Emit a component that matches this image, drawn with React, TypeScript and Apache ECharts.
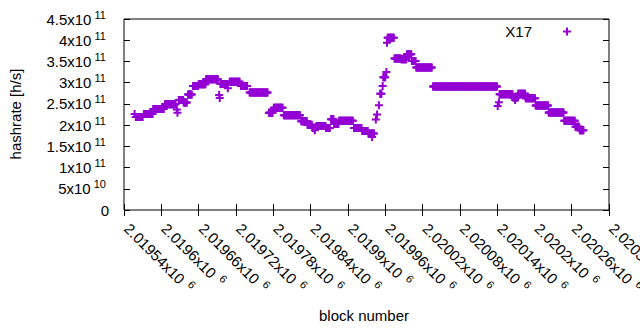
import React, { useEffect, useRef } from 'react';
import * as echarts from 'echarts';

// Runs of blocks sharing the same hashrate estimate (start block, end block, value in 1e11 h/s)
const runStart = [
  2019557, 2019559, 2019572, 2019587, 2019606, 2019625, 2019626, 2019628, 2019636, 2019643,
  2019651, 2019660, 2019672, 2019693, 2019694, 2019695, 2019707, 2019710, 2019728, 2019742,
  2019773, 2019781, 2019797, 2019825, 2019835, 2019844, 2019847, 2019849, 2019850, 2019865,
  2019873, 2019878, 2019886, 2019910, 2019923, 2019933, 2019939, 2019945, 2019947, 2019950,
  2019952, 2019956, 2019957, 2019962, 2019963, 2019964, 2019975, 2019986, 2019995, 2020003,
  2020010, 2020037, 2020141, 2020143, 2020144, 2020166, 2020169, 2020174, 2020186, 2020202,
  2020223, 2020248, 2020266, 2020273,
];
const runEnd = [
  2019557, 2019570, 2019586, 2019604, 2019623, 2019625, 2019626, 2019635, 2019641, 2019649,
  2019659, 2019671, 2019691, 2019693, 2019694, 2019706, 2019707, 2019726, 2019738, 2019771,
  2019779, 2019795, 2019823, 2019834, 2019842, 2019844, 2019847, 2019849, 2019864, 2019871,
  2019877, 2019885, 2019908, 2019922, 2019932, 2019942, 2019939, 2019945, 2019947, 2019950,
  2019954, 2019956, 2019960, 2019962, 2019963, 2019974, 2019985, 2019994, 2020002, 2020009,
  2020035, 2020140, 2020141, 2020143, 2020165, 2020173, 2020169, 2020185, 2020201, 2020222,
  2020247, 2020265, 2020272, 2020279,
];
const runValue = [
  2.26, 2.19, 2.26, 2.38, 2.49, 2.37, 2.29, 2.59, 2.53, 2.72,
  2.92, 2.96, 3.08, 2.71, 2.64, 2.97, 2.87, 3.02, 2.92, 2.77,
  2.29, 2.41, 2.23, 2.09, 2.01, 1.93, 1.88, 1.96, 1.98, 1.93,
  2.14, 2.03, 2.10, 1.93, 1.86, 1.80, 1.72, 2.13, 2.25, 2.47,
  2.74, 2.92, 3.13, 3.25, 3.94, 4.06, 3.57, 3.55, 3.67, 3.51,
  3.36, 2.91, 2.45, 2.54, 2.73, 2.65, 2.59, 2.74, 2.63, 2.46,
  2.30, 2.10, 1.96, 1.88,
];
const seriesName = 'X17';
const xTitle = 'block number';
const yTitle = 'hashrate [h/s]';
const xMin = 2019540;
const xMax = 2020320;
const xStep = 60;
const yMin = 0;
const yMax = 4.5e11;
const yStep = 5e10;

const FONT = '"Liberation Sans", Arial, sans-serif';
const COLOR = '#9400d3';
const PLUS = 'path://M3,0H5V3H8V5H5V8H3V5H0V3H3Z';

function sciParts(v: number): [string, string] | null {
  if (v === 0) return null;
  const e = Math.floor(Math.log10(v) + 1e-9);
  const m = Math.round((v / Math.pow(10, e)) * 100000) / 100000;
  return [String(m), String(e)];
}

export default function App() {
  const ref = useRef<HTMLDivElement>(null);
  useEffect(() => {
    document.body.style.margin = '0';
    if (!ref.current) return;
    const chart = echarts.init(ref.current, undefined, { renderer: 'svg' });
    const data: number[][] = [];
    for (let i = 0; i < runStart.length; i++) {
      for (let b = runStart[i]; b <= runEnd[i]; b++) data.push([b, runValue[i] * 1e11]);
    }
    const base = { fontSize: 15, lineHeight: 20, fontFamily: FONT, color: '#000' };
    const sup = { fontSize: 11, lineHeight: 11, verticalAlign: 'top', fontFamily: FONT, color: '#000' };
    const rich = { a: base, s: sup };
    const labelBase = { fontSize: 15, lineHeight: 20, fontFamily: FONT, color: '#000' };
    const tick = { inside: true, length: 6, lineStyle: { color: '#000', width: 1 } };
    const xCommon = { type: 'value', min: xMin, max: xMax, interval: xStep, splitLine: { show: false }, axisLine: { show: false }, axisTick: tick };
    const yCommon = { type: 'value', min: yMin, max: yMax, interval: yStep, splitLine: { show: false }, axisLine: { show: false }, axisTick: tick };
    chart.setOption({
      animation: false,
      textStyle: { fontFamily: FONT },
      grid: {
        left: 124, right: 31, top: 19, bottom: 120,
        show: true, borderColor: '#000', borderWidth: 1,
        containLabel: false, outerBoundsMode: 'none',
      },
      legend: {
        data: [{ name: seriesName, icon: PLUS }],
        right: 69, top: 24, align: 'right', padding: 0,
        itemWidth: 60, itemHeight: 8,
        textStyle: { fontSize: 15, color: '#000', fontFamily: FONT },
      },
      xAxis: [
        {
          ...xCommon, position: 'bottom',
          axisLabel: {
            ...labelBase,
            rotate: -45, margin: 13, showMinLabel: true, showMaxLabel: true, hideOverlap: false,
            formatter: (v: number) => `{a| ${parseFloat((v / 1e6).toPrecision(6))}x10}{s|  6}`,
            rich,
          },
        },
        { ...xCommon, position: 'top', axisLabel: { show: false } },
      ],
      yAxis: [
        {
          ...yCommon, position: 'left',
          axisLabel: {
            ...labelBase,
            margin: 15, showMinLabel: true, showMaxLabel: true,
            formatter: (v: number) => {
              const p = sciParts(v);
              return p ? `{a|${p[0]}x10}{s| ${p[1]} }` : '{a|0}';
            },
            rich,
          },
        },
        { ...yCommon, position: 'right', axisLabel: { show: false } },
      ],
      graphic: [
        {
          type: 'text', x: 15.5, y: 114, rotation: Math.PI / 2,
          style: { text: yTitle, fontSize: 15, fontFamily: FONT, fill: '#000', textAlign: 'center', textVerticalAlign: 'middle' },
        },
        {
          type: 'text', x: 364, y: 315,
          style: { text: xTitle, fontSize: 15, fontFamily: FONT, fill: '#000', textAlign: 'center', textVerticalAlign: 'middle' },
        },
      ],
      series: [
        {
          name: seriesName, type: 'scatter', data,
          symbol: PLUS, symbolSize: 8,
          itemStyle: { color: COLOR, opacity: 1 },
          silent: true,
        },
      ],
    });
    return () => chart.dispose();
  }, []);
  return <div ref={ref} style={{ width: 640, height: 330 }} />;
}
